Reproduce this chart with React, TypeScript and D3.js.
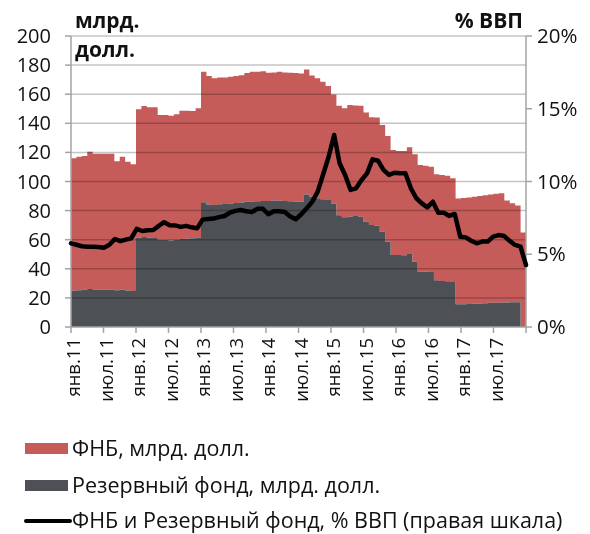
import React from 'react';
import * as d3 from 'd3';

// monthly, Jan 2011 - Dec 2017
const reserveFund = [
  25, 25.3, 25.6, 26.1, 25.8, 25.7, 25.7, 25.8, 25.3, 25.6, 25.1, 24.8,
  61.4, 61.8, 61.5, 61.2, 60.2, 60, 59.5, 59.8, 60.4, 60.6, 61, 61.5,
  85.7, 84.2, 83.8, 84.3, 84.5, 84.8, 85.3, 85.5, 86, 86.2, 86.4, 86.6,
  86.6, 87, 86.8, 86.6, 86.4, 86.2, 86, 91, 89.6, 88.5, 87.8, 87.2,
  84.8, 76.8, 75.4, 75.8, 76.3, 75.8, 72.4, 70.1, 69.6, 65.5, 58.6, 49.5,
  49.5, 49.3, 50.2, 44.9, 38.2, 38, 37.8, 32.2, 31.7, 31.4, 31, 15.6,
  15.6, 15.8, 16, 16.2, 16.4, 16.6, 16.7, 16.8, 16.9, 17, 17, 0,
];
const nwf = [
  91, 91.7, 91.9, 94.4, 93.2, 93.3, 93.3, 93.2, 88.7, 91.4, 88.5, 87,
  88.2, 90.1, 89.5, 89.8, 85.5, 85.7, 85.7, 86.4, 88.3, 88.1, 87.4, 88.8,
  89.8, 88.3, 87.2, 87.2, 87, 87.2, 87.2, 87.5, 88.5, 89.3, 89.1, 89.2,
  88.2, 88, 88.7, 88.4, 88.4, 88.4, 88.3, 86, 83.2, 82.4, 80.8, 78.4,
  75, 75.2, 74.9, 76.8, 75.9, 76.2, 75.1, 74, 74.4, 73.3, 72.7, 72.1,
  71.5, 71.7, 73.3, 73.8, 73.1, 72.9, 72.4, 72.7, 72.8, 72.6, 71.2, 72.8,
  73, 73.2, 73.5, 73.8, 74.1, 74.4, 74.8, 75.2, 70.1, 68, 66.5, 65,
];
const pctGdp = [
  5.75, 5.65, 5.55, 5.52, 5.52, 5.5, 5.45, 5.65, 6.05, 5.9, 6.0, 6.1,
  6.75, 6.6, 6.65, 6.67, 6.95, 7.2, 7.0, 6.98, 6.88, 6.95, 6.85, 6.78,
  7.38, 7.42, 7.45, 7.55, 7.63, 7.86, 7.98, 8.04, 7.95, 7.9, 8.12, 8.12,
  7.75, 7.95, 7.95, 7.9, 7.6, 7.4, 7.75, 8.16, 8.6, 9.3, 10.5, 11.7,
  13.2, 11.25, 10.45, 9.42, 9.53, 10.1, 10.56, 11.52, 11.43, 10.8, 10.45, 10.6,
  10.56, 10.56, 9.53, 8.85, 8.5, 8.22, 8.61, 7.86, 7.86, 7.63, 7.77, 6.21,
  6.16, 5.93, 5.75, 5.87, 5.87, 6.21, 6.32, 6.25, 5.93, 5.64, 5.52, 4.26,
];
const tickLabels = [
  'янв.11', 'июл.11', 'янв.12', 'июл.12', 'янв.13', 'июл.13', 'янв.14',
  'июл.14', 'янв.15', 'июл.15', 'янв.16', 'июл.16', 'янв.17', 'июл.17',
];
const leftTicks = [0, 20, 40, 60, 80, 100, 120, 140, 160, 180, 200];
const rightTicks = [0, 5, 10, 15, 20];

const W = 590, H = 534;
const left = 71, right = 526, top = 36, bottom = 327;
const RED = '#c65c5a';
const GREY = '#4d5054';
const AXIS = '#a3a3a3';
const FONT = '"Open Sans", "Noto Sans", sans-serif';

export default function App() {
  const n = reserveFund.length;
  const x = d3.scaleLinear().domain([0, n]).range([left, right]);
  const xLine = d3.scaleLinear().domain([0, n - 1]).range([left, right]);
  const y = d3.scaleLinear().domain([0, 200]).range([bottom, top]);
  const y2 = d3.scaleLinear().domain([0, 20]).range([bottom, top]);

  // repeat the last month so the step closes at the right edge
  const idx = d3.range(n + 1);
  const at = (arr: number[], i: number) => arr[Math.min(i, n - 1)];

  const greyArea = d3.area<number>()
    .x(i => x(i))
    .y0(y(0))
    .y1(i => y(at(reserveFund, i)))
    .curve(d3.curveStepAfter);
  const redArea = d3.area<number>()
    .x(i => x(i))
    .y0(i => y(at(reserveFund, i)))
    .y1(i => y(at(reserveFund, i) + at(nwf, i)))
    .curve(d3.curveStepAfter);
  const pctLine = d3.line<number>()
    .x((d, i) => xLine(i))
    .y(d => y2(d));

  const monthTicks = d3.range(0, n + 1, 6);

  return (
    <svg width={W} height={H} style={{ position: 'absolute', left: 0, top: 0 }} fontFamily={FONT}>
      <rect width={W} height={H} fill="#fff" />
      <path d={redArea(idx) || ''} fill={RED} />
      <path d={greyArea(idx) || ''} fill={GREY} />

      {/* gridlines */}
      <g style={{ mixBlendMode: 'multiply' }}>
        {leftTicks.slice(1).map(t => (
          <line key={t} x1={left} x2={right} y1={y(t)} y2={y(t)} stroke="#c4c4c4" strokeWidth={1.5} />
        ))}
      </g>

      {/* left axis */}
      <line x1={left} x2={left} y1={top} y2={bottom} stroke={AXIS} strokeWidth={1.5} />
      {leftTicks.map(t => (
        <g key={t}>
          <line x1={left - 6} x2={left} y1={y(t)} y2={y(t)} stroke={AXIS} strokeWidth={1.5} />
          <text x={51} y={y(t)} dy="0.35em" textAnchor="end" fontSize={20} fill="#111">{t}</text>
        </g>
      ))}

      {/* right axis */}
      <line x1={right} x2={right} y1={top} y2={bottom} stroke={AXIS} strokeWidth={1.5} />
      {rightTicks.map(t => (
        <g key={t}>
          <line x1={right} x2={right + 6} y1={y2(t)} y2={y2(t)} stroke={AXIS} strokeWidth={1.5} />
          <text x={537} y={y2(t)} dy="0.35em" textAnchor="start" fontSize={20.5} fill="#111">{t}%</text>
        </g>
      ))}

      {/* bottom axis */}
      <line x1={left} x2={right} y1={bottom} y2={bottom} stroke={AXIS} strokeWidth={1.5} />
      {monthTicks.map(m => (
        <line key={m} x1={x(m)} x2={x(m)} y1={bottom} y2={bottom + 6} stroke={AXIS} strokeWidth={1.5} />
      ))}
      {tickLabels.map((lab, k) => (
        <text key={lab} transform={`translate(${x(k * 6) + 9},338) rotate(-90)`}
          textAnchor="end" fontSize={18.5} fill="#111">{lab}</text>
      ))}

      <path d={pctLine(pctGdp) || ''} fill="none" stroke="#000" strokeWidth={4.5}
        strokeLinejoin="round" strokeLinecap="round" />

      {/* headers */}
      <text x={75} y={28} fontSize={21} fontWeight="bold" fill="#111">млрд.</text>
      <text x={75} y={57} fontSize={21} fontWeight="bold" fill="#111">долл.</text>
      <text x={523} y={28} fontSize={21} fontWeight="bold" fill="#111" textAnchor="end">% ВВП</text>

      {/* legend */}
      <rect x={25} y={443} width={43} height={11} fill={RED} />
      <text x={72} y={456} fontSize={21.5} fill="#111">ФНБ, млрд. долл.</text>
      <rect x={25} y={480} width={43} height={11} fill={GREY} />
      <text x={72} y={493} fontSize={21.5} fill="#111">Резервный фонд, млрд. долл.</text>
      <line x1={26} x2={70} y1={521} y2={521} stroke="#000" strokeWidth={4} strokeLinecap="round" />
      <text x={72} y={528} fontSize={21.5} fill="#111">ФНБ и Резервный фонд, % ВВП (правая шкала)</text>
    </svg>
  );
}
